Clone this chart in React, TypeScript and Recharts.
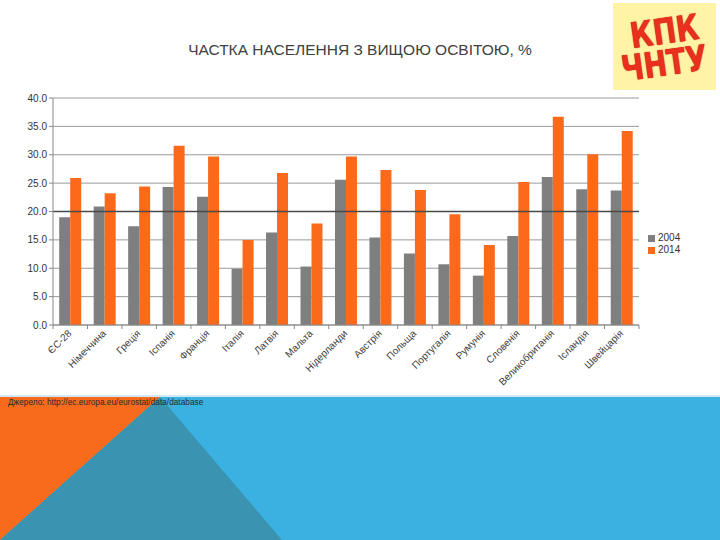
import React from "react";
import {
  BarChart,
  Bar,
  XAxis,
  YAxis,
  CartesianGrid,
  ReferenceLine,
} from "recharts";

const countries = [
  "ЄС-28",
  "Німеччина",
  "Греція",
  "Іспанія",
  "Франція",
  "Італія",
  "Латвія",
  "Мальта",
  "Нідерланди",
  "Австрія",
  "Польща",
  "Португалія",
  "Румунія",
  "Словенія",
  "Великобританія",
  "Ісландія",
  "Швейцарія",
];
const values2004 = [19.0, 20.9, 17.4, 24.3, 22.6, 9.9, 16.3, 10.3, 25.6, 15.4, 12.6, 10.7, 8.7, 15.7, 26.1, 23.9, 23.7];
const values2014 = [25.9, 23.2, 24.4, 31.6, 29.7, 15.0, 26.8, 17.9, 29.7, 27.3, 23.8, 19.5, 14.1, 25.2, 36.7, 30.1, 34.2];
const yTicks = [0, 5, 10, 15, 20, 25, 30, 35, 40];
const seriesNames = ["2004", "2014"];
const seriesColors = ["#7f7f7f", "#fb6a1a"];

const data = countries.map((name, i) => ({
  name,
  y2004: values2004[i],
  y2014: values2014[i],
}));

const PLOT_LEFT = 53;
const PLOT_RIGHT = 639;
const BAND = (PLOT_RIGHT - PLOT_LEFT) / countries.length;

const CategoryTick = (props: any) => {
  const { x, y, payload, index } = props;
  return (
    <g>
      <line x1={x - BAND / 2} x2={x - BAND / 2} y1={y} y2={y + 4} stroke="#888" />
      {index === countries.length - 1 && (
        <line x1={x + BAND / 2} x2={x + BAND / 2} y1={y} y2={y + 4} stroke="#888" />
      )}
      <text
        x={x + 2}
        y={y + 9}
        textAnchor="end"
        fontSize={10}
        fill="#404040"
        fontFamily="'Liberation Sans', Arial, sans-serif"
        transform={`rotate(-45 ${x + 2} ${y + 9})`}
      >
        {payload.value}
      </text>
    </g>
  );
};

export default function App() {
  return (
    <div style={{ position: "absolute", left: 0, top: 0, width: 720, height: 540, background: "#fff", overflow: "hidden" }}>
      {/* bottom decoration */}
      <svg width={720} height={540} style={{ position: "absolute", left: 0, top: 0 }}>
        <rect x={0} y={396} width={720} height={144} fill="#3bb1e1" />
        <rect x={0} y={395} width={720} height={2} fill="#cfeaf5" />
        <polygon points="0,397 160,397 0,540" fill="#f96b1c" />
        <polygon points="160,397 282,540 0,540" fill="#3993b1" />
      </svg>

      <div
        style={{
          position: "absolute",
          left: 8,
          top: 397,
          fontFamily: "'Liberation Sans Narrow', 'Liberation Sans', Arial, sans-serif",
          fontSize: 8.3,
          color: "#2a2a2a",
          whiteSpace: "nowrap",
        }}
      >
        Джерело: http://ec.europa.eu/eurostat/data/database
      </div>

      {/* title */}
      <div
        style={{
          position: "absolute",
          left: 0,
          top: 41,
          width: 720,
          textAlign: "center",
          fontFamily: "'Liberation Sans', Arial, sans-serif",
          fontSize: 15.5,
          color: "#404040",
        }}
      >
        ЧАСТКА НАСЕЛЕННЯ З ВИЩОЮ ОСВІТОЮ, %
      </div>

      {/* logo */}
      <div
        style={{
          position: "absolute",
          left: 613,
          top: 3,
          width: 103,
          height: 87,
          background: "#fff3a6",
          display: "flex",
          flexDirection: "column",
          alignItems: "center",
          justifyContent: "center",
          fontFamily: "'Liberation Sans Narrow', 'DejaVu Sans Condensed', sans-serif",
          fontWeight: "bold",
          fontSize: 31,
          lineHeight: "32px",
          color: "#e8301c",
        }}
      >
        <div style={{ transform: "rotate(-8deg) scaleY(1.15)", textShadow: "0 0 1px #b01010" }}>КПК</div>
        <div style={{ transform: "rotate(-8deg) scaleY(1.15)", textShadow: "0 0 1px #b01010" }}>ЧНТУ</div>
      </div>

      {/* legend */}
      <div
        style={{
          position: "absolute",
          left: 648,
          top: 232,
          fontFamily: "'Liberation Sans', Arial, sans-serif",
          fontSize: 10,
          color: "#333",
          lineHeight: "12px",
        }}
      >
        {seriesNames.map((n, i) => (
          <div key={n} style={{ display: "flex", alignItems: "center" }}>
            <span style={{ width: 7, height: 7, background: seriesColors[i], marginRight: 3, display: "inline-block" }} />
            {n}
          </div>
        ))}
      </div>

      <div style={{ position: "absolute", left: 0, top: 0 }}>
        <BarChart
          width={720}
          height={400}
          data={data}
          margin={{ top: 98, right: 720 - PLOT_RIGHT, left: 8, bottom: 0 }}
          barCategoryGap="18%"
          barGap={0}
        >
          <CartesianGrid vertical={false} stroke="#9a9a9a" />
          <XAxis
            dataKey="name"
            height={75}
            interval={0}
            tickLine={false}
            tickSize={0}
            tickMargin={0}
            axisLine={{ stroke: "#888" }}
            tick={<CategoryTick />}
          />
          <YAxis
            width={45}
            domain={[0, 40]}
            ticks={yTicks}
            tickFormatter={(v: number) => v.toFixed(1)}
            tick={{ fontSize: 10, fill: "#333", fontFamily: "'Liberation Sans', Arial, sans-serif" }}
            tickSize={4}
            tickMargin={2}
            tickLine={{ stroke: "#888" }}
            axisLine={{ stroke: "#888" }}
          />
          <ReferenceLine y={20} stroke="#4a4a4a" strokeWidth={1.5} />
          <Bar dataKey="y2004" name={seriesNames[0]} fill={seriesColors[0]} isAnimationActive={false} />
          <Bar dataKey="y2014" name={seriesNames[1]} fill={seriesColors[1]} isAnimationActive={false} />
        </BarChart>
      </div>
    </div>
  );
}
